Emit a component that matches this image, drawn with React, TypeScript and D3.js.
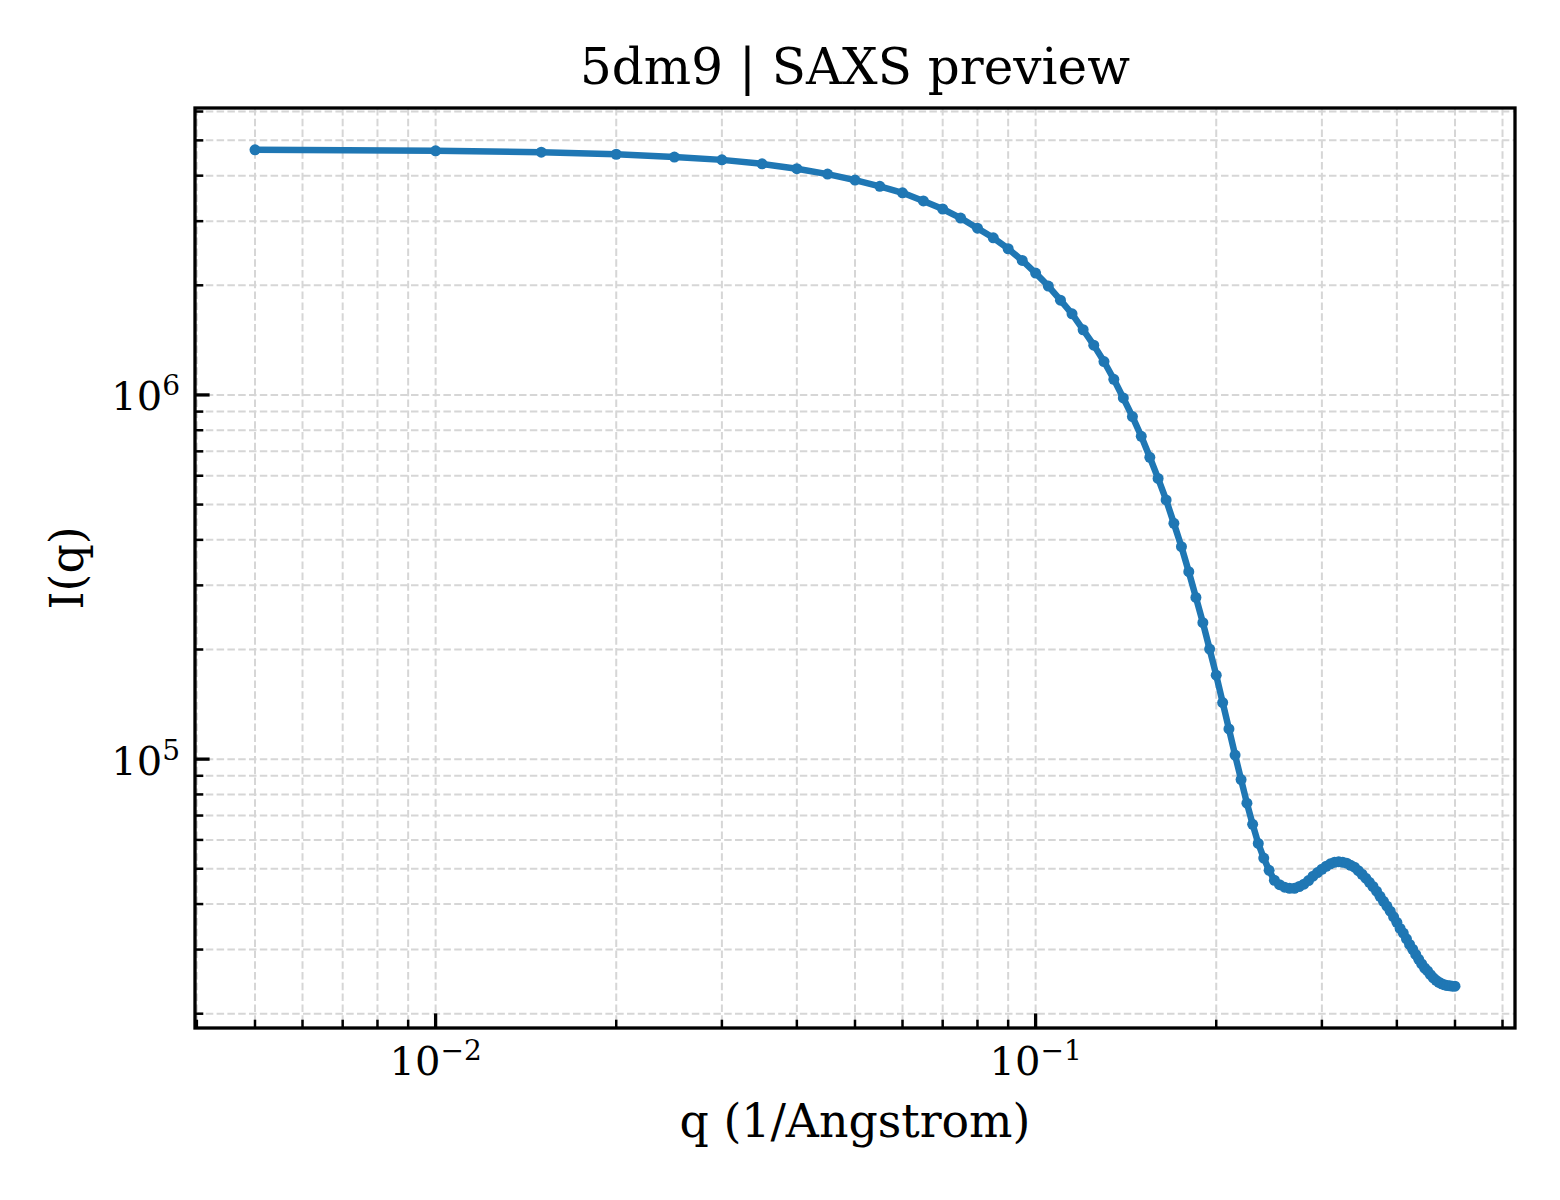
import { useRef, useEffect } from "react";
import * as d3 from "d3";

const qValues = [
  0.005, 0.01, 0.015, 0.02, 0.025, 0.03, 0.035, 0.04, 0.045, 0.05,
  0.055, 0.06, 0.065, 0.07, 0.075, 0.08, 0.085, 0.09, 0.095, 0.1,
  0.105, 0.11, 0.115, 0.12, 0.125, 0.13, 0.135, 0.14, 0.145, 0.15,
  0.155, 0.16, 0.165, 0.17, 0.175, 0.18, 0.185, 0.19, 0.195, 0.2,
  0.205, 0.21, 0.215, 0.22, 0.225, 0.23, 0.235, 0.24, 0.245, 0.25,
  0.255, 0.26, 0.265, 0.27, 0.275, 0.28, 0.285, 0.29, 0.295, 0.3,
  0.305, 0.31, 0.315, 0.32, 0.325, 0.33, 0.335, 0.34, 0.345, 0.35,
  0.355, 0.36, 0.365, 0.37, 0.375, 0.38, 0.385, 0.39, 0.395, 0.4,
  0.405, 0.41, 0.415, 0.42, 0.425, 0.43, 0.435, 0.44, 0.445, 0.45,
  0.455, 0.46, 0.465, 0.47, 0.475, 0.48, 0.485, 0.49, 0.495, 0.5,
];

const intensity = [
  4.71e6, 4.68e6, 4.64e6, 4.58e6, 4.5e6, 4.42e6, 4.31e6, 4.18e6, 4.04e6, 3.89e6,
  3.74e6, 3.59e6, 3.41e6, 3.24e6, 3.06e6, 2.87e6, 2.7e6, 2.52e6, 2.34e6, 2.16e6,
  1.99e6, 1.82e6, 1.67e6, 1.51e6, 1.37e6, 1.235e6, 1.104e6, 9.81e5, 8.72e5, 7.7e5,
  6.74e5, 5.9e5, 5.15e5, 4.44e5, 3.83e5, 3.27e5, 2.78e5, 2.37e5, 2.005e5, 1.7e5,
  1.43e5, 1.21e5, 1.026e5, 8.79e4, 7.57e4, 6.62e4, 5.87e4, 5.35e4, 4.95e4, 4.65e4,
  4.52e4, 4.45e4, 4.42e4, 4.42e4, 4.47e4, 4.535e4, 4.64e4, 4.77e4, 4.88e4, 4.985e4,
  5.08e4, 5.16e4, 5.21e4, 5.23e4, 5.21e4, 5.18e4, 5.11e4, 5.05e4, 4.94e4, 4.83e4,
  4.71e4, 4.59e4, 4.47e4, 4.34e4, 4.2e4, 4.07e4, 3.95e4, 3.825e4, 3.69e4, 3.565e4,
  3.43e4, 3.33e4, 3.21e4, 3.1e4, 3.006e4, 2.91e4, 2.82e4, 2.74e4, 2.67e4, 2.62e4,
  2.56e4, 2.51e4, 2.47e4, 2.44e4, 2.415e4, 2.4e4, 2.39e4, 2.385e4, 2.38e4, 2.38e4,
];

const title = "5dm9 | SAXS preview";
const xLabel = "q (1/Angstrom)";
const yLabel = "I(q)";

const serif = "'DejaVu Serif', serif";
const lineColor = "#1f77b4";
const gridColor = "#d6d6d6";

// pad a log extent by 5% like matplotlib's autoscale margins
function logPad(ext: [number, number]): [number, number] {
  const a = Math.log10(ext[0]);
  const b = Math.log10(ext[1]);
  const m = (b - a) * 0.05;
  return [Math.pow(10, a - m), Math.pow(10, b + m)];
}

const isDecade = (v: number) => Math.abs(Math.log10(v) - Math.round(Math.log10(v))) < 1e-9;

export default function App() {
  const svgRef = useRef<SVGSVGElement>(null);

  useEffect(() => {
    if (!svgRef.current) return;
    const width = 1560;
    const height = 1200;
    const margin = { top: 108, right: 45, bottom: 172, left: 195 };
    const x0 = margin.left;
    const x1 = width - margin.right;
    const y0 = margin.top;
    const y1 = height - margin.bottom;

    const svg = d3.select(svgRef.current);
    svg.selectAll("*").remove();
    svg.attr("width", width).attr("height", height);

    svg.append("rect").attr("width", width).attr("height", height).attr("fill", "#fff");

    const data = qValues.map((q, i) => ({ q, I: intensity[i] }));

    const x = d3.scaleLog()
      .domain(logPad(d3.extent(qValues) as [number, number]))
      .range([x0, x1]);
    const y = d3.scaleLog()
      .domain(logPad(d3.extent(intensity) as [number, number]))
      .range([y1, y0]);

    const xTicks = x.ticks().filter((v) => x(v) >= x0 - 0.5 && x(v) <= x1 + 0.5);
    const yTicks = y.ticks().filter((v) => y(v) >= y0 - 0.5 && y(v) <= y1 + 0.5);

    // grid (major + minor, same style)
    const grid = svg.append("g").attr("stroke", gridColor).attr("stroke-width", 2)
      .attr("stroke-dasharray", "7.5,3.3");
    grid.selectAll("line.vx")
      .data(xTicks)
      .join("line")
      .attr("class", "vx")
      .attr("x1", (d) => x(d)).attr("x2", (d) => x(d))
      .attr("y1", y0).attr("y2", y1);
    grid.selectAll("line.hy")
      .data(yTicks)
      .join("line")
      .attr("class", "hy")
      .attr("y1", (d) => y(d)).attr("y2", (d) => y(d))
      .attr("x1", x0).attr("x2", x1);

    // curve + markers
    const line = d3.line<{ q: number; I: number }>()
      .x((d) => x(d.q))
      .y((d) => y(d.I));

    svg.append("path")
      .datum(data)
      .attr("d", line)
      .attr("fill", "none")
      .attr("stroke", lineColor)
      .attr("stroke-width", 6.5)
      .attr("stroke-linejoin", "round")
      .attr("stroke-linecap", "round");

    svg.selectAll("circle.pt")
      .data(data)
      .join("circle")
      .attr("class", "pt")
      .attr("cx", (d) => x(d.q))
      .attr("cy", (d) => y(d.I))
      .attr("r", 5.5)
      .attr("fill", lineColor);

    // inward ticks on bottom / left
    const ticks = svg.append("g").attr("stroke", "#000");
    ticks.selectAll("line.tx")
      .data(xTicks)
      .join("line")
      .attr("class", "tx")
      .attr("x1", (d) => x(d)).attr("x2", (d) => x(d))
      .attr("y1", y1).attr("y2", (d) => y1 - (isDecade(d) ? 14.6 : 8.3))
      .attr("stroke-width", (d) => (isDecade(d) ? 3.3 : 2.5));
    ticks.selectAll("line.ty")
      .data(yTicks)
      .join("line")
      .attr("class", "ty")
      .attr("y1", (d) => y(d)).attr("y2", (d) => y(d))
      .attr("x1", x0).attr("x2", (d) => x0 + (isDecade(d) ? 14.6 : 8.3))
      .attr("stroke-width", (d) => (isDecade(d) ? 3.3 : 2.5));

    // frame
    svg.append("rect")
      .attr("x", x0).attr("y", y0)
      .attr("width", x1 - x0).attr("height", y1 - y0)
      .attr("fill", "none")
      .attr("stroke", "#000")
      .attr("stroke-width", 3.3);

    // tick labels as 10^n
    const expo = (v: number) => String(Math.round(Math.log10(v))).replace("-", "\u2212");

    const xLab = svg.append("g").attr("font-family", serif).attr("fill", "#000");
    xTicks.filter(isDecade).forEach((v) => {
      const t = xLab.append("text")
        .attr("x", x(v))
        .attr("y", y1 + 47)
        .attr("text-anchor", "middle")
        .attr("font-size", 40);
      t.append("tspan").text("10");
      t.append("tspan").attr("dy", -15).attr("font-size", 28).text(expo(v));
    });

    const yLab = svg.append("g").attr("font-family", serif).attr("fill", "#000");
    yTicks.filter(isDecade).forEach((v) => {
      const t = yLab.append("text")
        .attr("x", x0 - 15)
        .attr("y", y(v) + 15.5)
        .attr("text-anchor", "end")
        .attr("font-size", 40);
      t.append("tspan").text("10");
      t.append("tspan").attr("dy", -15).attr("font-size", 28).text(expo(v));
    });

    // title and axis labels
    svg.append("text")
      .attr("x", (x0 + x1) / 2)
      .attr("y", 84)
      .attr("text-anchor", "middle")
      .attr("font-family", serif)
      .attr("font-size", 50)
      .text(title);

    svg.append("text")
      .attr("x", (x0 + x1) / 2)
      .attr("y", 1137)
      .attr("text-anchor", "middle")
      .attr("font-family", serif)
      .attr("font-size", 45.8)
      .text(xLabel);

    svg.append("text")
      .attr("transform", `translate(83,${(y0 + y1) / 2}) rotate(-90)`)
      .attr("text-anchor", "middle")
      .attr("font-family", serif)
      .attr("font-size", 45.8)
      .text(yLabel);
  }, []);

  return (
    <div style={{ position: "absolute", left: 0, top: 0 }}>
      <svg ref={svgRef} style={{ display: "block" }} />
    </div>
  );
}
